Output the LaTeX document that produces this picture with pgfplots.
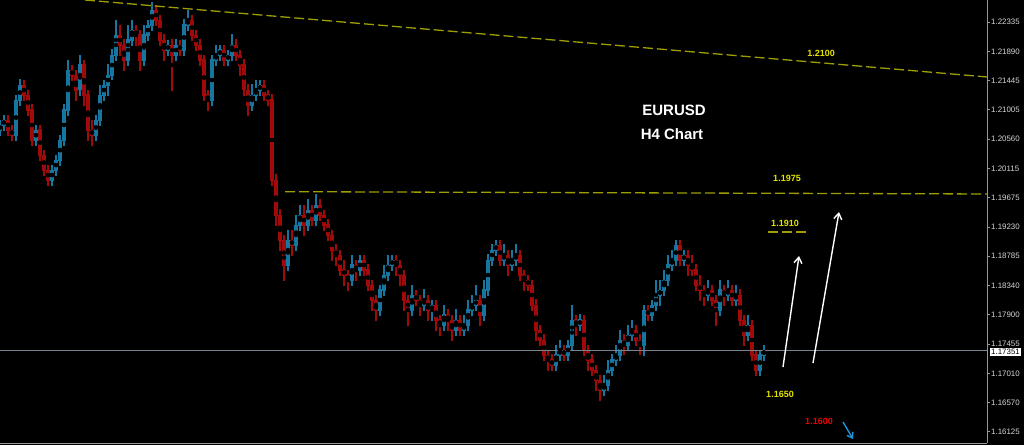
\documentclass[border=0pt]{standalone}
\usepackage{pgfplots}
\pgfplotsset{compat=1.18}
\usepackage{pgfplotstable}
\usepackage{fontspec}
\setmainfont{Liberation Sans}
\usetikzlibrary{arrows.meta}
\definecolor{upc}{RGB}{22,118,160}
\definecolor{dnc}{RGB}{160,10,10}
\definecolor{tl}{RGB}{158,158,0}
\definecolor{lbl}{RGB}{228,228,0}
\definecolor{pline}{RGB}{120,132,150}
\definecolor{axg}{RGB}{150,150,150}
\definecolor{tickc}{RGB}{215,215,215}
\definecolor{redlbl}{RGB}{235,0,0}
\definecolor{bluearr}{RGB}{30,150,220}

\pgfplotstableread{
x o c h l
0 1.20698 1.20773 1.20849 1.20622
4 1.20773 1.20849 1.20925 1.20698
16 1.20622 1.21152 1.21228 1.20546
20 1.21152 1.21380 1.21456 1.21077
36 1.20546 1.20698 1.20773 1.20470
52 1.19940 1.20091 1.20167 1.19864
56 1.20091 1.20243 1.20319 1.20016
60 1.20243 1.20546 1.20622 1.20167
64 1.20546 1.21001 1.21077 1.20470
68 1.21001 1.21607 1.21759 1.20925
80 1.21304 1.21683 1.21834 1.21228
96 1.20622 1.20849 1.20925 1.20546
100 1.20849 1.21228 1.21380 1.20773
104 1.21228 1.21380 1.21456 1.21152
108 1.21380 1.21531 1.21683 1.21228
112 1.21531 1.21834 1.21910 1.21456
116 1.21834 1.22138 1.22365 1.21759
128 1.21759 1.22062 1.22289 1.21683
132 1.22062 1.22213 1.22365 1.21986
144 1.21759 1.22138 1.22289 1.21683
148 1.22138 1.22289 1.22365 1.22062
152 1.22289 1.22516 1.22638 1.22213
168 1.21910 1.21986 1.22062 1.21834
176 1.21834 1.21986 1.22062 1.21759
184 1.21910 1.22289 1.22365 1.21834
188 1.22289 1.22365 1.22516 1.22213
212 1.21152 1.21759 1.21834 1.21077
216 1.21759 1.21834 1.21986 1.21683
220 1.21834 1.21910 1.21986 1.21759
228 1.21759 1.21834 1.21910 1.21683
232 1.21834 1.21986 1.22138 1.21759
252 1.21077 1.21228 1.21380 1.21001
256 1.21228 1.21304 1.21456 1.21152
260 1.21304 1.21380 1.21456 1.21228
288 1.18652 1.19030 1.19182 1.18576
296 1.18955 1.19258 1.19409 1.18879
300 1.19258 1.19409 1.19561 1.19182
308 1.19258 1.19485 1.19637 1.19182
316 1.19334 1.19561 1.19713 1.19258
352 1.18424 1.18652 1.18803 1.18348
360 1.18576 1.18727 1.18803 1.18500
380 1.17970 1.18273 1.18348 1.17894
384 1.18273 1.18500 1.18652 1.18197
388 1.18500 1.18652 1.18803 1.18424
392 1.18652 1.18727 1.18803 1.18576
412 1.17970 1.18197 1.18348 1.17894
424 1.18045 1.18121 1.18273 1.17970
432 1.17970 1.18045 1.18121 1.17818
444 1.17742 1.17894 1.18045 1.17666
456 1.17666 1.17818 1.17970 1.17591
464 1.17666 1.17742 1.17894 1.17591
468 1.17742 1.17970 1.18121 1.17666
472 1.17970 1.18045 1.18197 1.17894
476 1.18045 1.18121 1.18348 1.17970
484 1.17894 1.18273 1.18424 1.17818
488 1.18273 1.18727 1.18803 1.18197
492 1.18727 1.18879 1.18955 1.18652
496 1.18879 1.18955 1.19030 1.18803
504 1.18727 1.18803 1.18955 1.18652
512 1.18652 1.18727 1.18879 1.18576
516 1.18727 1.18803 1.18955 1.18652
556 1.17136 1.17288 1.17439 1.17060
560 1.17288 1.17363 1.17515 1.17212
568 1.17288 1.17439 1.17515 1.17212
572 1.17439 1.17818 1.18045 1.17363
580 1.17742 1.17818 1.17894 1.17666
604 1.16757 1.16833 1.16984 1.16681
608 1.16833 1.17060 1.17212 1.16757
612 1.17060 1.17212 1.17288 1.16984
616 1.17212 1.17288 1.17439 1.17136
620 1.17288 1.17515 1.17666 1.17212
628 1.17439 1.17591 1.17742 1.17363
632 1.17591 1.17666 1.17818 1.17515
644 1.17439 1.17970 1.18045 1.17288
652 1.17894 1.18045 1.18121 1.17818
656 1.18045 1.18197 1.18424 1.17970
660 1.18197 1.18273 1.18424 1.18045
664 1.18273 1.18424 1.18576 1.18197
668 1.18424 1.18652 1.18803 1.18348
672 1.18652 1.18727 1.18879 1.18576
676 1.18727 1.18955 1.19030 1.18652
684 1.18727 1.18803 1.18879 1.18652
708 1.18197 1.18273 1.18424 1.18121
720 1.17970 1.18273 1.18424 1.17894
728 1.18197 1.18273 1.18424 1.18121
736 1.18121 1.18197 1.18348 1.18045
748 1.17591 1.17742 1.17894 1.17515
760 1.17060 1.17288 1.17363 1.16984
764 1.17288 1.17363 1.17439 1.17212
}\up

\pgfplotstableread{
x o c h l
8 1.20849 1.20698 1.20925 1.20622
12 1.20698 1.20622 1.20773 1.20546
24 1.21380 1.21228 1.21456 1.21152
28 1.21228 1.21001 1.21304 1.20925
32 1.21001 1.20546 1.21077 1.20470
40 1.20698 1.20319 1.20773 1.20243
44 1.20319 1.20091 1.20395 1.20016
48 1.20091 1.19940 1.20167 1.19864
72 1.21607 1.21531 1.21683 1.21456
76 1.21531 1.21304 1.21607 1.21152
84 1.21683 1.21228 1.21759 1.21077
88 1.21228 1.20698 1.21304 1.20546
92 1.20698 1.20622 1.20849 1.20470
120 1.22138 1.21986 1.22289 1.21834
124 1.21986 1.21759 1.22062 1.21607
136 1.22213 1.22138 1.22289 1.21986
140 1.22138 1.21759 1.22213 1.21607
156 1.22516 1.22365 1.22592 1.22289
160 1.22365 1.22062 1.22441 1.21986
164 1.22062 1.21910 1.22138 1.21759
172 1.21986 1.21834 1.22062 1.21304
180 1.21986 1.21910 1.22062 1.21834
192 1.22365 1.22138 1.22441 1.22062
196 1.22138 1.21986 1.22213 1.21910
200 1.21986 1.21759 1.22062 1.21683
204 1.21759 1.21228 1.21834 1.21152
208 1.21228 1.21152 1.21304 1.21001
224 1.21910 1.21759 1.21986 1.21683
236 1.21986 1.21834 1.22062 1.21759
240 1.21834 1.21683 1.21910 1.21531
244 1.21683 1.21304 1.21759 1.21228
248 1.21304 1.21077 1.21380 1.20925
264 1.21380 1.21228 1.21456 1.21152
268 1.21228 1.21152 1.21304 1.21077
272 1.21152 1.19940 1.21228 1.19864
276 1.19940 1.19409 1.20016 1.19258
280 1.19409 1.19030 1.19485 1.18879
284 1.19030 1.18652 1.19106 1.18424
292 1.19030 1.18955 1.19182 1.18803
304 1.19409 1.19258 1.19561 1.19106
312 1.19485 1.19334 1.19561 1.19258
320 1.19561 1.19409 1.19637 1.19334
324 1.19409 1.19258 1.19485 1.19182
328 1.19258 1.19106 1.19334 1.19030
332 1.19106 1.18879 1.19182 1.18727
336 1.18879 1.18803 1.18955 1.18652
340 1.18803 1.18576 1.18879 1.18500
344 1.18576 1.18500 1.18727 1.18348
348 1.18500 1.18424 1.18576 1.18273
356 1.18652 1.18576 1.18727 1.18424
364 1.18727 1.18576 1.18803 1.18500
368 1.18576 1.18348 1.18652 1.18273
372 1.18348 1.18121 1.18424 1.17970
376 1.18121 1.17970 1.18197 1.17818
396 1.18727 1.18652 1.18803 1.18500
400 1.18652 1.18500 1.18727 1.18348
404 1.18500 1.18121 1.18576 1.17970
408 1.18121 1.17970 1.18197 1.17742
416 1.18197 1.18121 1.18273 1.18045
420 1.18121 1.18045 1.18197 1.17894
428 1.18121 1.17970 1.18197 1.17818
436 1.18045 1.17818 1.18121 1.17666
440 1.17818 1.17742 1.17894 1.17591
448 1.17894 1.17818 1.17970 1.17666
452 1.17818 1.17666 1.17894 1.17515
460 1.17818 1.17666 1.17894 1.17591
480 1.18121 1.17894 1.18197 1.17742
500 1.18955 1.18727 1.19030 1.18652
508 1.18803 1.18652 1.18879 1.18500
520 1.18803 1.18500 1.18879 1.18424
524 1.18500 1.18424 1.18576 1.18273
528 1.18424 1.18348 1.18500 1.18273
532 1.18348 1.18045 1.18424 1.17970
536 1.18045 1.17666 1.18121 1.17515
540 1.17666 1.17515 1.17742 1.17439
544 1.17515 1.17288 1.17591 1.17212
548 1.17288 1.17212 1.17363 1.17060
552 1.17212 1.17136 1.17288 1.17060
564 1.17363 1.17288 1.17439 1.17212
576 1.17818 1.17742 1.17894 1.17591
584 1.17818 1.17363 1.17894 1.17288
588 1.17363 1.17212 1.17439 1.17060
592 1.17212 1.17060 1.17288 1.16984
596 1.17060 1.16909 1.17136 1.16757
600 1.16909 1.16757 1.16984 1.16606
624 1.17515 1.17439 1.17591 1.17288
636 1.17666 1.17515 1.17742 1.17439
640 1.17515 1.17439 1.17591 1.17288
648 1.17970 1.17894 1.18045 1.17818
680 1.18955 1.18727 1.19030 1.18652
688 1.18803 1.18652 1.18879 1.18500
692 1.18652 1.18576 1.18803 1.18500
696 1.18576 1.18348 1.18652 1.18273
700 1.18348 1.18273 1.18500 1.18121
704 1.18273 1.18197 1.18348 1.18045
712 1.18273 1.18121 1.18348 1.18045
716 1.18121 1.17970 1.18197 1.17742
724 1.18273 1.18197 1.18348 1.18045
732 1.18273 1.18121 1.18348 1.18045
740 1.18197 1.17818 1.18273 1.17742
744 1.17818 1.17591 1.17894 1.17439
752 1.17742 1.17288 1.17818 1.17212
756 1.17288 1.17060 1.17363 1.16984
}\down

\begin{document}
\begin{tikzpicture}
\fill[black] (0,0) rectangle (1024pt,445pt);
\begin{axis}[
  at={(0pt,2pt)}, anchor=south west,
  scale only axis, width=987pt, height=443pt,
  xmin=0, xmax=987, ymin=1.15954, ymax=1.22668,
  axis y line*=right, axis x line*=bottom,
  axis line style={-, draw=axg, line width=0.8pt},
  xtick=\empty,
  ytick={1.22335,1.21890,1.21445,1.21005,1.20560,1.20115,1.19675,1.19230,1.18785,1.18340,1.17900,1.17455,1.17010,1.16570,1.16125},
  yticklabels={1.22335,1.21890,1.21445,1.21005,1.20560,1.20115,1.19675,1.19230,1.18785,1.18340,1.17900,1.17455,1.17010,1.16570,1.16125},
  tick align=outside, major tick length=2.5pt,
  tick style={draw=axg, line width=0.6pt},
  yticklabel style={font=\fontsize{7.9}{9}\selectfont, text=tickc, inner xsep=1.5pt},
  clip=true,
]
% wicks
\addplot[only marks, mark=none, error bars/.cd, y dir=both, y explicit, error mark=none,
  error bar style={draw=upc, line width=1.2pt}]
  table[x=x, y expr={(\thisrow{h}+\thisrow{l})/2}, y error expr={(\thisrow{h}-\thisrow{l})/2+0.00008}] {\up};
\addplot[only marks, mark=none, error bars/.cd, y dir=both, y explicit, error mark=none,
  error bar style={draw=dnc, line width=1.2pt}]
  table[x=x, y expr={(\thisrow{h}+\thisrow{l})/2}, y error expr={(\thisrow{h}-\thisrow{l})/2+0.00008}] {\down};
% bodies
\addplot[only marks, mark=none, error bars/.cd, y dir=both, y explicit, error mark=none,
  error bar style={draw=upc, line width=3.3pt}]
  table[x=x, y expr={(\thisrow{o}+\thisrow{c})/2}, y error expr={(\thisrow{c}-\thisrow{o})/2+0.00008}] {\up};
\addplot[only marks, mark=none, error bars/.cd, y dir=both, y explicit, error mark=none,
  error bar style={draw=dnc, line width=3.3pt}]
  table[x=x, y expr={(\thisrow{o}+\thisrow{c})/2}, y error expr={(\thisrow{o}-\thisrow{c})/2+0.00008}] {\down};
% current price line
\draw[pline, line width=0.8pt] (axis cs:0,1.17351) -- (axis cs:987,1.17351);
% trend lines
\draw[tl, line width=1.3pt, dash pattern=on 10pt off 4pt] (axis cs:85,1.22668) -- (axis cs:987,1.21501);
\draw[tl, line width=1.3pt, dash pattern=on 10pt off 4pt] (axis cs:285,1.19763) -- (axis cs:987,1.19728);
\draw[tl, line width=1.3pt, dash pattern=on 10pt off 4pt] (axis cs:768,1.19152) -- (axis cs:808,1.19152);
\end{axis}
% price box
\node[fill=white, text=black, inner xsep=1.2pt, inner ysep=1pt, font=\fontsize{7.9}{8}\selectfont] at (1005.5pt,93pt) {1.17351};
% labels
\begin{scope}[font=\fontsize{9}{10}\selectfont\bfseries]
\node[text=lbl] at (821pt,392pt) {1.2100};
\node[text=lbl] at (787pt,267pt) {1.1975};
\node[text=lbl] at (785pt,222pt) {1.1910};
\node[text=lbl] at (780pt,51pt) {1.1650};
\node[text=redlbl] at (819pt,24pt) {1.1600};
\end{scope}
\node[text=white, font=\fontsize{15}{16}\selectfont\bfseries] at (674pt,335pt) {EURUSD};
\node[text=white, font=\fontsize{15}{16}\selectfont\bfseries] at (672pt,311pt) {H4 Chart};
% arrows
\draw[white, line width=1.4pt, -{Straight Barb[length=6pt,width=8pt]}] (783pt,78pt) -- (799pt,189pt);
\draw[white, line width=1.4pt, -{Straight Barb[length=6pt,width=8pt]}] (813pt,82pt) -- (839pt,233pt);
\draw[bluearr, line width=1.4pt, -{Straight Barb[length=5pt,width=7pt]}] (843pt,23pt) -- (853pt,6pt);
\pgfresetboundingbox
\path[use as bounding box] (0,0) rectangle (1024pt,445pt);
\end{tikzpicture}
\end{document}
